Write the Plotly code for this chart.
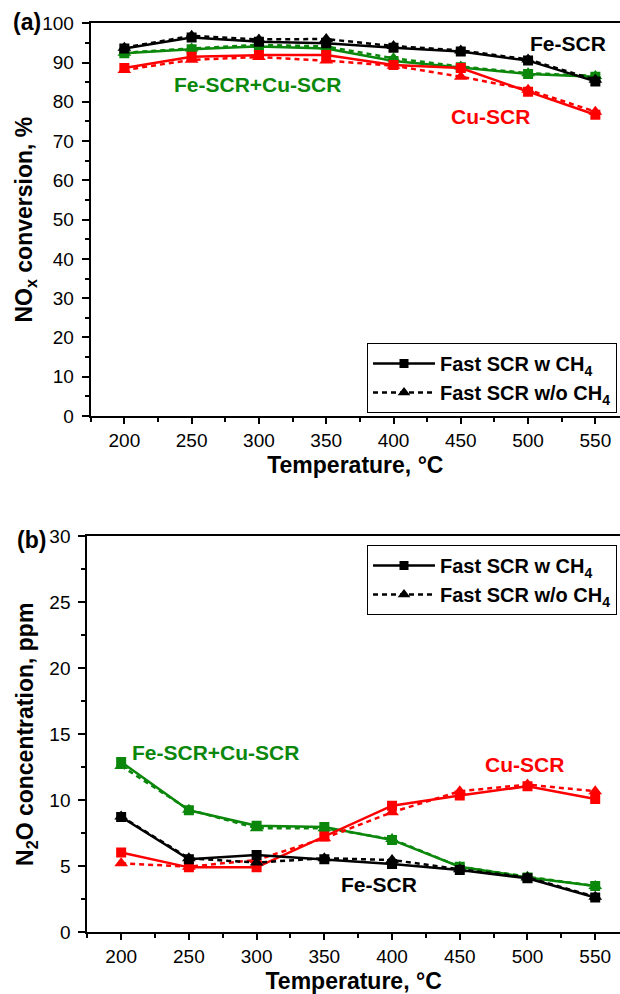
import plotly.graph_objects as go

temps = [200, 250, 300, 350, 400, 450, 500, 550]

# (a) NOx conversion, %
nox_fe_w = [93.6, 96.4, 95.3, 94.9, 93.8, 92.8, 90.5, 85.2]
nox_fe_wo = [93.8, 96.8, 95.9, 96.0, 94.2, 93.1, 90.8, 85.6]
nox_fecu_w = [92.4, 93.4, 94.1, 93.6, 90.4, 88.8, 87.1, 86.4]
nox_fecu_wo = [92.5, 93.6, 94.5, 94.1, 91.1, 89.0, 87.3, 86.6]
nox_cu_w = [88.6, 91.5, 91.9, 91.9, 89.4, 88.6, 82.6, 76.7]
nox_cu_wo = [88.1, 90.7, 91.4, 90.5, 89.2, 86.4, 83.1, 77.5]

# (b) N2O concentration, ppm
n2o_fe_w = [8.73, 5.53, 5.86, 5.53, 5.18, 4.72, 4.09, 2.64]
n2o_fe_wo = [8.78, 5.61, 5.28, 5.61, 5.48, 4.77, 4.16, 2.69]
n2o_fecu_w = [12.9, 9.24, 8.07, 7.97, 7.0, 4.97, 4.16, 3.5]
n2o_fecu_wo = [12.6, 9.29, 7.89, 7.89, 7.06, 4.97, 4.21, 3.5]
n2o_cu_w = [6.04, 4.92, 4.92, 7.26, 9.59, 10.36, 11.07, 10.1]
n2o_cu_wo = [5.23, 4.97, 5.48, 7.13, 9.09, 10.69, 11.19, 10.69]

legend_labels = ["Fast SCR w CH<sub>4</sub>", "Fast SCR w/o CH<sub>4</sub>"]

BLACK = "#000000"
GREEN = "#0b870b"
RED = "#ff0000"
DOT = "5px,4px"
LW = 2.5
FONT = "Liberation Sans, Arial, sans-serif"

fig = go.Figure()


def add_pair(x, y_w, y_wo, color, xa, ya):
    fig.add_trace(go.Scatter(x=x, y=y_wo, mode="lines+markers", xaxis=xa, yaxis=ya,
                             line=dict(color=color, width=LW, dash=DOT),
                             marker=dict(symbol="triangle-up", size=12, color=color),
                             showlegend=False))
    fig.add_trace(go.Scatter(x=x, y=y_w, mode="lines+markers", xaxis=xa, yaxis=ya,
                             line=dict(color=color, width=LW),
                             marker=dict(symbol="square", size=10, color=color),
                             showlegend=False))


# panel (a)
add_pair(temps, nox_fecu_w, nox_fecu_wo, GREEN, "x", "y")
add_pair(temps, nox_cu_w, nox_cu_wo, RED, "x", "y")
add_pair(temps, nox_fe_w, nox_fe_wo, BLACK, "x", "y")
# panel (b)
add_pair(temps, n2o_fecu_w, n2o_fecu_wo, GREEN, "x2", "y2")
add_pair(temps, n2o_cu_w, n2o_cu_wo, RED, "x2", "y2")
add_pair(temps, n2o_fe_w, n2o_fe_wo, BLACK, "x2", "y2")

# legend entries
for xa, ya, lg in [("x", "y", "legend"), ("x2", "y2", "legend2")]:
    fig.add_trace(go.Scatter(x=[None], y=[None], mode="lines+markers", xaxis=xa, yaxis=ya,
                             name=legend_labels[0], legend=lg,
                             line=dict(color=BLACK, width=LW),
                             marker=dict(symbol="square", size=9, color=BLACK)))
    fig.add_trace(go.Scatter(x=[None], y=[None], mode="lines+markers", xaxis=xa, yaxis=ya,
                             name=legend_labels[1], legend=lg,
                             line=dict(color=BLACK, width=LW, dash=DOT),
                             marker=dict(symbol="triangle-up", size=11, color=BLACK)))

H = 994.0
W = 620.0
xr = [175.0, 568.3]
TITLE_FONT = dict(family=FONT, size=23, color="black", weight="bold")


def xaxis_cfg(standoff):
    return dict(range=xr, tickmode="array", tickvals=temps, ticktext=[str(t) for t in temps],
                ticks="outside", ticklen=6, tickwidth=1.5, tickcolor="black",
                showline=True, linecolor="black", linewidth=2, mirror=True,
                showgrid=False, zeroline=False, automargin=False,
                tickfont=dict(family=FONT, size=19, color="black"),
                minor=dict(tickvals=[175, 225, 275, 325, 375, 425, 475, 525],
                           ticks="outside", ticklen=4, tickwidth=1.5, tickcolor="black"),
                title=dict(text="Temperature, °C", standoff=standoff, font=TITLE_FONT))


ycommon = dict(ticks="outside", ticklen=7, tickwidth=1.5, tickcolor="black",
               showline=True, linecolor="black", linewidth=2,
               showgrid=False, zeroline=False, automargin=False,
               ticklabelstandoff=4,
               tickfont=dict(family=FONT, size=19, color="black"))

fig.update_layout(
    width=620, height=994,
    margin=dict(l=0, r=0, t=0, b=0),
    paper_bgcolor="white", plot_bgcolor="white",
    xaxis=dict(domain=[90.7 / W, 1.0], anchor="y", **xaxis_cfg(7)),
    xaxis2=dict(domain=[87.3 / W, 1.0], anchor="y2", **xaxis_cfg(13)),
    yaxis=dict(domain=[1 - 416.0 / H, 1 - 23.3 / H], anchor="x", range=[0, 100],
               dtick=10, minor=dict(dtick=5, ticks="outside", ticklen=4, tickwidth=1.5, tickcolor="black"),
               title=dict(text="NO<sub>x</sub> conversion, %", standoff=3, font=TITLE_FONT),
               **ycommon),
    yaxis2=dict(domain=[1 - 932.3 / H, 1 - 536.3 / H], anchor="x2", range=[0, 30],
                dtick=5, minor=dict(dtick=2.5, ticks="outside", ticklen=4, tickwidth=1.5, tickcolor="black"),
                title=dict(text="N<sub>2</sub>O concentration, ppm", standoff=9, font=TITLE_FONT),
                **ycommon),
    legend=dict(x=617 / W, y=1 - 343 / H, xanchor="right", yanchor="top",
                bordercolor="black", borderwidth=1, bgcolor="white",
                font=dict(family=FONT, size=20, color="black", weight="bold"),
                itemwidth=62, tracegroupgap=0),
    legend2=dict(x=617 / W, y=1 - 545 / H, xanchor="right", yanchor="top",
                 bordercolor="black", borderwidth=1, bgcolor="white",
                 font=dict(family=FONT, size=20, color="black", weight="bold"),
                 itemwidth=62, tracegroupgap=0),
    showlegend=True,
)

ann_font = lambda c: dict(family=FONT, size=21, color=c, weight="bold")
annotations = [
    dict(x=529.8, y=94.9, xref="x", yref="y", text="Fe-SCR", font=ann_font(BLACK)),
    dict(x=298.6, y=84.3, xref="x", yref="y", text="Fe-SCR+Cu-SCR", font=ann_font(GREEN)),
    dict(x=471.7, y=76.3, xref="x", yref="y", text="Cu-SCR", font=ann_font(RED)),
    dict(x=270.0, y=13.6, xref="x2", yref="y2", text="Fe-SCR+Cu-SCR", font=ann_font(GREEN)),
    dict(x=497.5, y=12.7, xref="x2", yref="y2", text="Cu-SCR", font=ann_font(RED)),
    dict(x=390.0, y=3.63, xref="x2", yref="y2", text="Fe-SCR", font=ann_font(BLACK)),
    dict(x=27 / W, y=1 - 22 / H, xref="paper", yref="paper", text="(a)",
         font=dict(family=FONT, size=23, color="black", weight="bold")),
    dict(x=31 / W, y=1 - 540 / H, xref="paper", yref="paper", text="(b)",
         font=dict(family=FONT, size=23, color="black", weight="bold")),
]
for a in annotations:
    a.update(showarrow=False, xanchor="center", yanchor="middle")
fig.update_layout(annotations=annotations)

fig.write_html("out.html",
               config={"displayModeBar": False},
               post_script="document.body.style.margin='0';document.body.style.padding='0';"
                           "document.body.style.overflow='hidden';")
